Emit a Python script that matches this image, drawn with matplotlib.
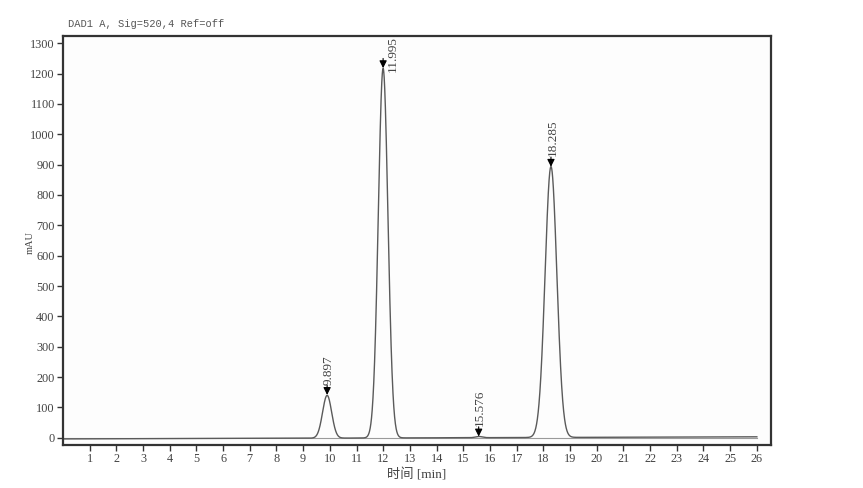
import numpy as np
import matplotlib
matplotlib.use("Agg")
import matplotlib.pyplot as plt

# ---- data ----
peak_rt = [9.897, 11.995, 15.576, 18.285]       # retention times (min)
peak_height = [141, 1218, 4, 893]               # apex heights (mAU)
peak_sigma = [0.17, 0.18, 0.12, 0.22]           # peak widths (min)
peak_labels = ["9.897", "11.995", "15.576", "18.285"]
drift_start, drift_end = -4.0, 3.0              # baseline drift (mAU) at 0 and 26 min
t_start, t_end = 0.0, 26.0
x_ticks = list(range(1, 27))
y_ticks = list(range(0, 1301, 100))

# ---- build trace ----
t = np.linspace(t_start, t_end, 5201)
signal = drift_start + (drift_end - drift_start) * (t - t_start) / (t_end - t_start)
for rt, h, s in zip(peak_rt, peak_height, peak_sigma):
    signal = signal + h * np.exp(-0.5 * ((t - rt) / s) ** 2)

serif = ["Liberation Serif", "DejaVu Serif"]
cjk = ["Liberation Serif", "Noto Sans CJK SC", "DejaVu Sans"]

fig = plt.figure(figsize=(8.63, 4.88), dpi=100)
fig.patch.set_facecolor("white")
ax = fig.add_axes([63 / 863, 1 - 445 / 488, (771 - 63) / 863, (445 - 35.7) / 488])
ax.set_facecolor("#fdfdfd")

ax.plot([t_start, t_end], [0, 0], color="#9a9a9a", lw=0.8)
ax.plot(t, signal, color="#5a5a5a", lw=1.0)

ax.set_xlim(0.0, 26.53)
ax.set_ylim(-24, 1325)
ax.set_xticks(x_ticks)
ax.set_yticks(y_ticks)
ax.tick_params(axis="both", direction="out", length=4, width=1.0, color="#333333",
               labelsize=8.8, labelcolor="#444444", pad=2)
for lab in ax.get_xticklabels() + ax.get_yticklabels():
    lab.set_fontfamily(serif)
for sp in ax.spines.values():
    sp.set_color("#333333")
    sp.set_linewidth(1.6)

ax.set_xlabel("时间 [min]", fontsize=9.5, color="#444444", family=cjk)
ax.xaxis.set_label_coords(0.5, (445 - 475) / 409.3)
ax.xaxis.label.set_va("center")
ax.set_ylabel("mAU", fontsize=7.5, color="#444444", family=serif)
ax.yaxis.set_label_coords((30 - 63) / 708, (445 - 243) / 409.3)
ax.yaxis.label.set_va("center")
fig.text(68 / 863, 1 - 24 / 488, "DAD1 A, Sig=520,4 Ref=off", fontsize=7.5,
         color="#555555", family=["Liberation Mono", "DejaVu Sans Mono"], va="center", ha="left")

# ---- peak annotations ----
for rt, h, lab in zip(peak_rt, peak_height, peak_labels):
    ax.annotate("", xy=(rt, h), xytext=(0, 7), textcoords="offset points",
                arrowprops=dict(arrowstyle="-|>", mutation_scale=11, lw=0.8,
                                color="black", shrinkA=0, shrinkB=0))
    if h > 1100:
        ax.annotate(lab, xy=(rt, h), xytext=(7, -3), textcoords="offset points",
                    rotation=90, ha="center", va="bottom", fontsize=9.5,
                    color="#444444", family=serif, annotation_clip=False)
    else:
        ax.annotate(lab, xy=(rt, h), xytext=(1, 7.5), textcoords="offset points",
                    rotation=90, ha="center", va="bottom", fontsize=9.5,
                    color="#444444", family=serif)

fig.savefig("out.png", dpi=100)
